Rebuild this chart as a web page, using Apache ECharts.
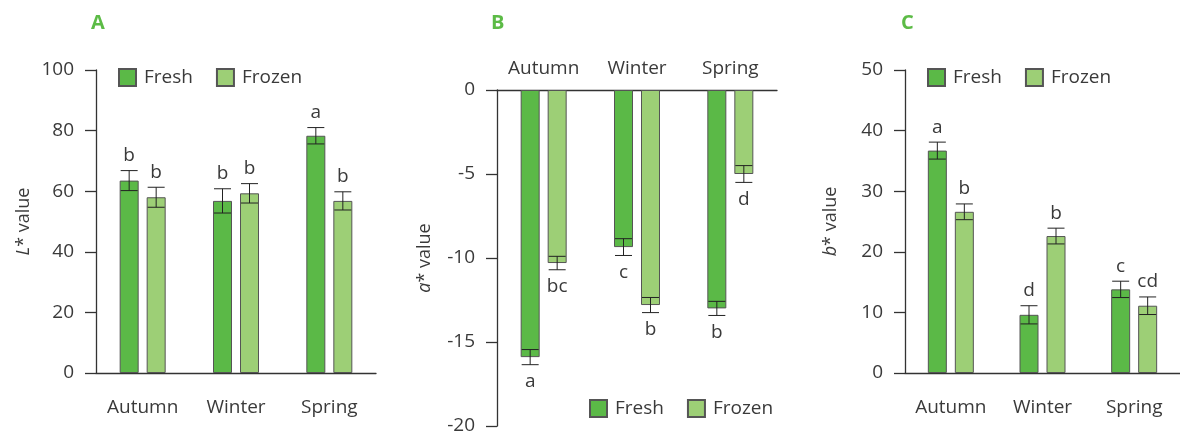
<!DOCTYPE html>
<html>
<head>
<meta charset="utf-8">
<script src="https://cdn.jsdelivr.net/npm/echarts@6/dist/echarts.min.js"></script>
<style>
  html, body { margin: 0; padding: 0; background: #fff; }
  #chart { width: 1180px; height: 436px; }
</style>
</head>
<body>
<div id="chart"></div>
<script>
  // data
  var seasons = ['Autumn', 'Winter', 'Spring']

  // A: L* value
  var lFresh = [63.5, 56.8, 78.3]
  var lFreshErr = [3.3, 4.0, 2.7]
  var lFreshSig = ['b', 'b', 'a']
  var lFrozen = [58.0, 59.3, 56.8]
  var lFrozenErr = [3.3, 3.2, 3.0]
  var lFrozenSig = ['b', 'b', 'b']

  // B: a* value
  var aFresh = [-15.9, -9.35, -13.0]
  var aFreshErr = [0.45, 0.5, 0.42]
  var aFreshSig = ['a', 'c', 'b']
  var aFrozen = [-10.3, -12.8, -5.0]
  var aFrozenErr = [0.4, 0.45, 0.5]
  var aFrozenSig = ['bc', 'b', 'd']

  // C: b* value
  var bFresh = [36.7, 9.6, 13.8]
  var bFreshErr = [1.4, 1.5, 1.35]
  var bFreshSig = ['a', 'd', 'c']
  var bFrozen = [26.6, 22.6, 11.1]
  var bFrozenErr = [1.3, 1.3, 1.45]
  var bFrozenSig = ['b', 'b', 'cd']

  var FONT = '"Open Sans", "Noto Sans", sans-serif'
  var TEXT = '#3a3a3a'
  var AXIS = '#333'
  var FRESH = '#5bb947'
  var FROZEN = '#9dcf76'
  var BAR_W = 19
  var BAR_GAP = 8

  var chart = echarts.init(document.getElementById('chart'))

  function barSeries(name, gi, vals, color) {
    return {
      name: name,
      type: 'bar',
      xAxisIndex: gi,
      yAxisIndex: gi,
      data: vals,
      barWidth: BAR_W,
      barGap: (BAR_GAP / BAR_W * 100) + '%',
      itemStyle: { color: color, borderColor: '#555', borderWidth: 1 },
      silent: true
    }
  }

  // error bars + significance letters
  function errSeries(gi, vals, errs, sigs, side, down) {
    return {
      type: 'custom',
      name: 'err' + gi + side,
      xAxisIndex: gi,
      yAxisIndex: gi,
      z: 5,
      clip: false,
      silent: true,
      data: vals.map(function(v, i) { return [i, v, errs[i]] }),
      renderItem: function(params, api) {
        var cat = api.value(0)
        var v = api.value(1)
        var e = api.value(2)
        var x = api.coord([cat, v])[0] + side * (BAR_W + BAR_GAP) / 2
        var hi = api.coord([cat, v + e])[1]
        var lo = api.coord([cat, v - e])[1]
        var hw = BAR_W / 2 - 1
        var st = { stroke: '#222', lineWidth: 1 }
        return {
          type: 'group',
          children: [
            { type: 'line', shape: { x1: x, y1: hi, x2: x, y2: lo }, style: st },
            { type: 'line', shape: { x1: x - hw, y1: hi, x2: x + hw, y2: hi }, style: st },
            { type: 'line', shape: { x1: x - hw, y1: lo, x2: x + hw, y2: lo }, style: st },
            {
              type: 'text',
              style: {
                text: sigs[params.dataIndex],
                x: x,
                y: down ? lo + 17 : hi - 15,
                align: 'center',
                verticalAlign: 'middle',
                fill: TEXT,
                font: '19px ' + FONT
              }
            }
          ]
        }
      }
    }
  }

  function yAxis(gi, min, max, interval, nameRich, gap) {
    return {
      gridIndex: gi,
      type: 'value',
      min: min,
      max: max,
      interval: interval,
      name: nameRich,
      nameLocation: 'middle',
      nameGap: gap,
      nameTextStyle: {
        fontFamily: FONT, fontSize: 18, color: TEXT,
        rich: { i: { fontFamily: FONT, fontSize: 18, color: TEXT, fontStyle: 'italic' } }
      },
      axisLine: { show: true, lineStyle: { color: AXIS, width: 1.3 } },
      axisTick: { show: true, length: 11, lineStyle: { color: AXIS, width: 1.3 } },
      axisLabel: { fontFamily: FONT, fontSize: 19, color: TEXT, margin: 22 },
      splitLine: { show: false }
    }
  }

  function xAxis(gi, pos, margin) {
    return {
      gridIndex: gi,
      type: 'category',
      position: pos,
      data: seasons,
      axisLine: { lineStyle: { color: AXIS, width: 1.3 } },
      axisTick: { show: false },
      axisLabel: { interval: 0, fontFamily: FONT, fontSize: 19, color: TEXT, margin: margin }
    }
  }

  function legend(left, top) {
    return {
      left: left,
      top: top,
      padding: 0,
      data: ['Fresh', 'Frozen'],
      icon: 'rect',
      itemWidth: 17,
      itemHeight: 17,
      itemGap: 23,
      selectedMode: false,
      textStyle: { fontFamily: FONT, fontSize: 19, color: TEXT, padding: [0, 0, 0, 3] }
    }
  }

  function panelTitle(text, left) {
    return {
      text: text,
      left: left,
      top: 8,
      textStyle: { fontFamily: FONT, fontSize: 20, fontWeight: 'bold', color: '#5cbb46' }
    }
  }

  var option = {
    backgroundColor: '#fff',
    animation: false,
    title: [panelTitle('A', 86), panelTitle('B', 486), panelTitle('C', 896)],
    legend: [legend(118, 68), legend(589, 399), legend(927, 68)],
    grid: [
      { left: 96, top: 70, width: 280, height: 303 },
      { left: 497, top: 90, width: 280, height: 336 },
      { left: 905, top: 70, width: 280, height: 303 }
    ],
    xAxis: [xAxis(0, 'bottom', 25), xAxis(1, 'top', 12), xAxis(2, 'bottom', 25)],
    yAxis: [
      yAxis(0, 0, 100, 20, '{i|L}* value', 63),
      yAxis(1, -20, 0, 5, '{i|a}* value', 63),
      yAxis(2, 0, 50, 10, '{i|b}* value', 65)
    ],
    series: [
      barSeries('Fresh', 0, lFresh, FRESH),
      barSeries('Frozen', 0, lFrozen, FROZEN),
      errSeries(0, lFresh, lFreshErr, lFreshSig, -1, false),
      errSeries(0, lFrozen, lFrozenErr, lFrozenSig, 1, false),

      barSeries('Fresh', 1, aFresh, FRESH),
      barSeries('Frozen', 1, aFrozen, FROZEN),
      errSeries(1, aFresh, aFreshErr, aFreshSig, -1, true),
      errSeries(1, aFrozen, aFrozenErr, aFrozenSig, 1, true),

      barSeries('Fresh', 2, bFresh, FRESH),
      barSeries('Frozen', 2, bFrozen, FROZEN),
      errSeries(2, bFresh, bFreshErr, bFreshSig, -1, false),
      errSeries(2, bFrozen, bFrozenErr, bFrozenSig, 1, false)
    ]
  }

  chart.setOption(option)
</script>
</body>
</html>
